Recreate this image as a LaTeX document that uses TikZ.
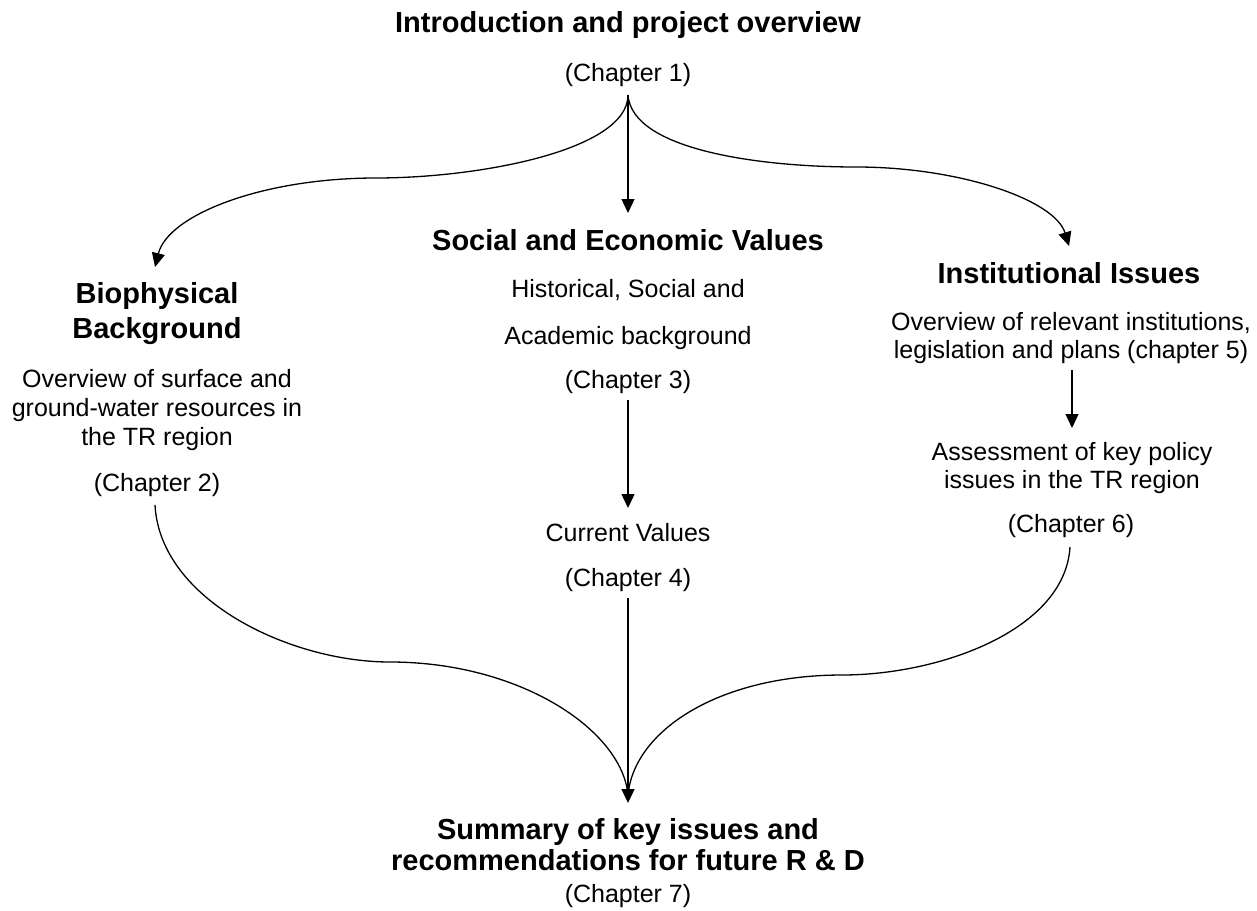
\documentclass[tikz,border=0pt]{standalone}
\usepackage{fontspec}
\setmainfont{Liberation Sans}
\usetikzlibrary{arrows.meta}
\tikzset{
  body/.style={anchor=base, inner sep=0pt, font=\fontsize{25}{29}\selectfont},
  head/.style={anchor=base, inner sep=0pt, font=\fontsize{29}{34}\selectfont\bfseries},
  conn/.style={line width=1.3pt},
  arr/.style={conn, -{Triangle[width=13pt,length=14pt]}}
}
\begin{document}
\begin{tikzpicture}[x=1pt,y=-1pt]
\useasboundingbox (0,0) rectangle (1257,910);
% top
\node[head] (t1) at (628,32) {Introduction and project overview};
\node[body] (c1) at (628,81) {(Chapter 1)};
% centre column
\node[head] (s1) at (628,250) {Social and Economic Values};
\node[body] (s2) at (628,297) {Historical, Social and};
\node[body] (s3) at (628,344) {Academic background};
\node[body] (c3) at (628,388) {(Chapter 3)};
\node[body] (v1) at (628,541) {Current Values};
\node[body] (c4) at (628,586) {(Chapter 4)};
% bottom
\node[head] (m1) at (628,839) {Summary of key issues and};
\node[head] (m2) at (628,870) {recommendations for future R \& D};
\node[body] (c7) at (628,902) {(Chapter 7)};
% left column
\node[head] (b1) at (157,303) {Biophysical};
\node[head] (b2) at (157,338) {Background};
\node[body] (b3) at (157,387) {Overview of surface and};
\node[body] (b4) at (157,416) {ground-water resources in};
\node[body] (b5) at (157,445) {the TR region};
\node[body] (c2) at (157,491) {(Chapter 2)};
% right column
\node[head] (i1) at (1069,283) {Institutional Issues};
\node[body] (i2) at (1071,330) {Overview of relevant institutions,};
\node[body] (i3) at (1071,358) {legislation and plans (chapter 5)};
\node[body] (a1) at (1072,460) {Assessment of key policy};
\node[body] (a2) at (1072,488) {issues in the TR region};
\node[body] (c6) at (1071,532) {(Chapter 6)};
% connector end points
\coordinate (top) at (628,95);
\coordinate (tipS) at (628,213);
\coordinate (tipB) at (155,267);
\coordinate (tipI) at (1069,246);
\coordinate (c3b) at (628,400);
\coordinate (tipV) at (628,508);
\coordinate (c4b) at (628,598);
\coordinate (tipM) at (628,803);
\coordinate (joinM) at (628,795);
\coordinate (c2b) at (155,505);
\coordinate (c6b) at (1070,547);
\coordinate (i3b) at (1072,370);
\coordinate (tipA) at (1072,428);
% connectors
\draw[arr] (top) -- (tipS);
\draw[arr] (top) .. controls (628,150) and (480,178) .. (376,178)
                 .. controls (262,178) and (168,215) .. (tipB);
\draw[arr] (top) .. controls (632,150) and (760,167) .. (856,167)
                 .. controls (960,167) and (1055,200) .. (tipI);
\draw[arr] (c3b) -- (tipV);
\draw[arr] (i3b) -- (tipA);
\draw[arr] (c4b) -- (tipM);
\draw[conn] (c2b) .. controls (160,600) and (290,662) .. (390,662)
                  .. controls (520,662) and (622,730) .. (joinM);
\draw[conn] (c6b) .. controls (1065,630) and (940,675) .. (842,675)
                  .. controls (720,675) and (634,730) .. (joinM);
\end{tikzpicture}
\end{document}
